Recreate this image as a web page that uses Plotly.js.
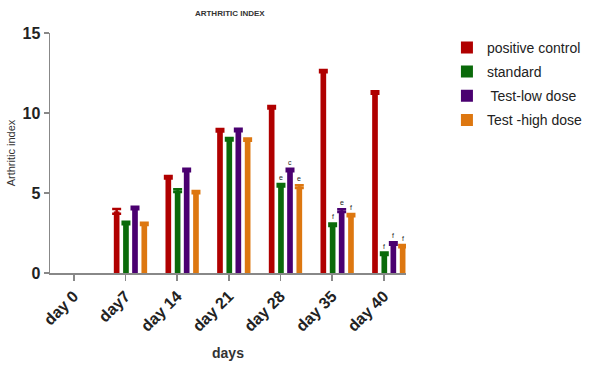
<!DOCTYPE html>
<html>
<head>
<meta charset="utf-8">
<script src="https://cdn.plot.ly/plotly-3.0.1.min.js"></script>
<style>html,body{margin:0;padding:0;background:#fff;}#chart{width:600px;height:367px;}</style>
</head>
<body>
<div id="chart"></div>
<script>
const days = ["day 0", "day7", "day 14", "day 21", "day 28", "day 35", "day 40"];
const seriesNames = ["positive control", "standard", " Test-low dose", "Test -high dose"];
const positiveControl = [null, 3.85, 5.98, 8.92, 10.36, 12.62, 11.28];
const standard        = [null, 3.12, 5.15, 8.36, 5.48, 3.02, 1.20];
const testLow         = [null, 4.06, 6.44, 8.94, 6.44, 3.90, 1.84];
const testHigh        = [null, 3.07, 5.05, 8.33, 5.40, 3.62, 1.68];
const errPositive = [0, 0.15, 0.08, 0.08, 0.08, 0.07, 0.08];
const errStandard = [0, 0.08, 0.08, 0.08, 0.08, 0.08, 0.08];
const errLow      = [0, 0.08, 0.08, 0.08, 0.08, 0.08, 0.08];
const errHigh     = [0, 0.07, 0.07, 0.07, 0.08, 0.07, 0.07];
const lettersPositive = ["", "", "", "", "", "", ""];
const lettersStandard = ["", "", "", "", "e", "f", "f"];
const lettersLow      = ["", "", "", "", "c", "e", "f"];
const lettersHigh     = ["", "", "", "", "e", "f", "f"];

const colors = ["#b00000", "#0a6a0a", "#4a0070", "#dd7710"];
const values = [positiveControl, standard, testLow, testHigh];
const errs = [errPositive, errStandard, errLow, errHigh];
const letters = [lettersPositive, lettersStandard, lettersLow, lettersHigh];
const barW = 0.11;
const offsets = [-0.225, -0.045, 0.13, 0.31];

const idx = days.map((d, i) => i);
const traces = values.map((v, s) => ({
  type: "bar",
  name: seriesNames[s],
  legendgroup: "g" + s,
  x: idx,
  y: v,
  width: barW,
  offset: offsets[s],
  marker: {color: colors[s], line: {width: 0}},
  error_y: {type: "data", array: errs[s], visible: true, color: colors[s], thickness: 2.5, width: 4.5}
}));

const annotations = [];
letters.forEach((arr, s) => {
  arr.forEach((t, i) => {
    if (t) {
      annotations.push({
        x: i + offsets[s] + barW / 2, y: values[s][i] + errs[s][i],
        xref: "x", yref: "y", text: t, showarrow: false,
        yanchor: "bottom", yshift: 1,
        font: {family: "Liberation Sans, Arial, sans-serif", size: 7, color: "#222"}
      });
    }
  });
});

const layout = {
  width: 600, height: 367,
  margin: {l: 50, r: 190, t: 33, b: 94},
  paper_bgcolor: "#fff", plot_bgcolor: "#fff",
  barmode: "overlay",
  showlegend: true,
  title: {text: "<b>ARTHRITIC INDEX</b>", x: 0.383, xanchor: "center", y: 0.965, yanchor: "middle",
          font: {family: "Liberation Sans, Arial, sans-serif", size: 8, color: "#333"}},
  xaxis: {
    tickmode: "array", tickvals: idx, ticktext: days,
    range: [-0.46, 6.43],
    tickangle: -45,
    tickfont: {family: "Liberation Sans, Arial, sans-serif", size: 16, color: "#222", weight: "bold"},
    showline: true, linecolor: "#888", linewidth: 1.5,
    ticks: "outside", ticklen: 6, tickcolor: "#888", tickwidth: 1.5,
    showgrid: false, zeroline: false,
    title: {text: "<b>days</b>", standoff: 14, font: {family: "Liberation Sans, Arial, sans-serif", size: 14, color: "#333"}}
  },
  yaxis: {
    range: [0, 15], tickvals: [0, 5, 10, 15],
    tickfont: {family: "Liberation Sans, Arial, sans-serif", size: 16, color: "#222", weight: "bold"},
    showline: true, linecolor: "#888", linewidth: 1.5,
    ticks: "outside", ticklen: 5, tickcolor: "#888", tickwidth: 1.5,
    showgrid: false, zeroline: false,
    title: {text: "Arthritic index", standoff: 4, font: {family: "Liberation Sans, Arial, sans-serif", size: 11, color: "#333"}}
  },
  legend: {
    x: 1.115, xanchor: "left", y: 1.005, yanchor: "top",
    xref: "paper", yref: "paper",
    font: {family: "Liberation Sans, Arial, sans-serif", size: 14, color: "#222"},
    tracegroupgap: 3, bgcolor: "rgba(0,0,0,0)"
  },
  annotations: annotations
};

Plotly.newPlot("chart", traces, layout, {staticPlot: true, displayModeBar: false});
</script>
</body>
</html>
